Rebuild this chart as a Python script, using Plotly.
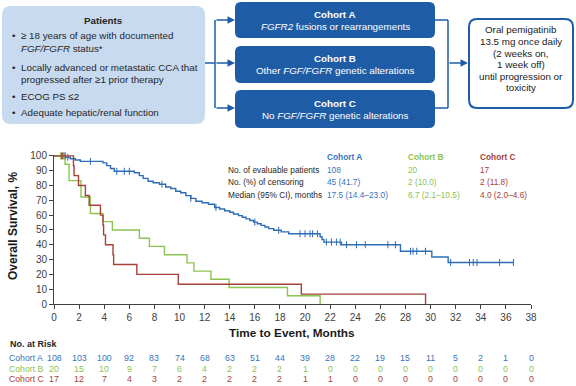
import plotly.graph_objects as go

# ---------------- data ----------------
months_ticks = list(range(0, 39, 2))
y_ticks = list(range(0, 101, 10))

a_time = [0, 0.9, 1.3, 1.7, 2.1, 3.9, 4.2, 4.5, 4.8, 6.4, 6.8, 7.1, 7.5, 7.9, 8.4, 8.9, 9.3, 9.7,
          10.1, 10.5, 10.9, 11.3, 11.8, 12.3, 12.8, 13.2, 13.6, 14.0, 14.3, 14.7, 15.0, 15.3, 15.6,
          15.9, 16.2, 16.5, 16.8, 17.1, 17.5, 18.1, 18.7, 21.2, 21.35, 21.5, 22.9, 27.6, 30.1, 31.4, 36.6]
a_surv = [100, 99.1, 98.1, 97.2, 96.3, 95.3, 93.4, 91.5, 89.6, 88.6, 86.7, 84.8, 82.9, 81.9, 80.9, 79.0, 78.0, 76.1,
          75.1, 73.2, 71.3, 69.4, 68.4, 67.3, 65.2, 64.1, 63.0, 61.9, 60.8, 59.7, 58.6, 57.5, 56.4,
          55.3, 54.2, 53.1, 52.0, 50.9, 49.8, 48.7, 47.4, 45.4, 43.5, 41.8, 40.0, 35.6, 31.7, 28.0, 28.0]
a_cens = [0.6, 0.8, 1.1, 2.9, 5.0, 5.6, 6.0, 8.6, 10.9, 12.9, 16.0, 17.9, 19.6, 20.0, 20.4, 20.6, 21.0,
          21.7, 22.1, 22.5, 22.8, 23.3, 24.1, 24.8, 26.6, 27.2, 28.4, 28.6, 28.9, 29.6, 31.6,
          33.1, 33.4, 33.7, 35.5, 36.6]

b_time = [0, 0.88, 1.2, 2.15, 2.9, 3.9, 4.65, 6.8, 7.6, 8.8, 10.6, 11.15, 12.5, 13.95, 18.6, 21.2]
b_surv = [100, 94.4, 83.3, 72.2, 61.1, 55.6, 50.0, 44.4, 38.9, 33.3, 27.8, 22.2, 16.7, 11.1, 5.6, 0]
b_cens = [0.5, 0.7]

c_time = [0, 1.55, 1.6, 1.95, 2.5, 2.8, 3.7, 3.9, 3.95, 4.1, 4.7, 4.75, 6.6, 9.9, 19.7, 29.6]
c_surv = [100, 93.3, 86.7, 80.0, 73.3, 66.7, 60.0, 53.3, 46.7, 40.0, 33.3, 26.7, 20.0, 13.3, 6.7, 0]
c_cens = [0.7, 0.9]

risk_a = [108, 103, 100, 92, 83, 74, 68, 63, 51, 44, 39, 28, 22, 19, 15, 11, 5, 2, 1, 0]
risk_b = [20, 15, 10, 9, 7, 6, 4, 2, 2, 2, 1, 0, 0, 0, 0, 0, 0, 0, 0, 0]
risk_c = [17, 12, 7, 4, 3, 2, 2, 2, 2, 2, 1, 1, 0, 0, 0, 0, 0, 0, 0, 0]

cohorts = ["Cohort A", "Cohort B", "Cohort C"]
evaluable = ["108", "20", "17"]
censoring = ["45 (41.7)", "2 (10.0)", "2 (11.8)"]
medians = ["17.5 (14.4\u201323.0)", "6.7 (2.1\u201310.5)", "4.0 (2.0\u20134.6)"]

BLUE = "#2e6db4"
BLUE_T = "#3574bd"
GREEN = "#8cc44f"
RED = "#a5423a"
DARK = "#1f5ca6"
FONT = "Liberation Sans, Arial, sans-serif"

# ---------------- geometry helpers (pixel -> paper) ----------------
L, R, T, B = 54, 531, 155, 304
W, H = 576, 386


def px(x):
    return (x - L) / (R - L)


def py(y):
    return (B - y) / (B - T)


def rrect(x0, y0, x1, y1, r):
    return (f"M {px(x0 + r)},{py(y0)} L {px(x1 - r)},{py(y0)} Q {px(x1)},{py(y0)} {px(x1)},{py(y0 + r)} "
            f"L {px(x1)},{py(y1 - r)} Q {px(x1)},{py(y1)} {px(x1 - r)},{py(y1)} "
            f"L {px(x0 + r)},{py(y1)} Q {px(x0)},{py(y1)} {px(x0)},{py(y1 - r)} "
            f"L {px(x0)},{py(y0 + r)} Q {px(x0)},{py(y0)} {px(x0 + r)},{py(y0)} Z")


def surv_at(times, survs, t):
    s = survs[0]
    for ti, si in zip(times, survs):
        if ti <= t:
            s = si
    return s


fig = go.Figure()

for times, survs, cens, col in [(a_time, a_surv, a_cens, BLUE), (b_time, b_surv, b_cens, GREEN),
                                (c_time, c_surv, c_cens, RED)]:
    fig.add_trace(go.Scatter(x=times, y=survs, mode="lines", line=dict(color=col, width=1.4, shape="hv"),
                             hoverinfo="skip", showlegend=False))
    fig.add_trace(go.Scatter(x=cens, y=[surv_at(times, survs, t) for t in cens], mode="markers",
                             marker=dict(symbol="line-ns-open", size=5, color=col,
                                         line=dict(color=col, width=1)),
                             hoverinfo="skip", showlegend=False, cliponaxis=False))

shapes = []
ann = []


def text(x, y, s, size=9.8, color="#262626", anchor="left", bold=False, xref="paper"):
    if bold:
        s = f"<b>{s}</b>"
    ann.append(dict(x=(px(x) if xref == "paper" else x), y=py(y), xref=xref, yref="paper", text=s,
                    showarrow=False, xanchor=anchor, yanchor="middle",
                    font=dict(family=FONT, size=size, color=color)))


# Patients box
shapes.append(dict(type="path", path=rrect(2, 6, 205, 124, 9), xref="paper", yref="paper",
                   fillcolor="#c8daf0", line=dict(width=0)))
text(103, 20, "Patients", bold=True, anchor="center")
for yy in [36, 67, 97, 112]:
    text(10, yy, "\u2022")
text(19, 36, "\u2265 18 years of age with documented")
text(19, 49, "<i>FGF/FGFR</i> status*")
text(19, 67, "Locally advanced or metastatic CCA that")
text(19, 80, "progressed after \u22651 prior therapy")
text(19, 97, "ECOG PS \u22642")
text(19, 112, "Adequate hepatic/renal function")

# Cohort boxes
for (y0, y1, title, sub) in [(2, 38, "Cohort A", "<i>FGFR2</i> fusions or rearrangements"),
                             (46, 83, "Cohort B", "Other <i>FGF/FGFR</i> genetic alterations"),
                             (90, 128, "Cohort C", "No <i>FGF/FGFR</i> genetic alterations")]:
    shapes.append(dict(type="path", path=rrect(235, y0, 435, y1, 6), xref="paper", yref="paper",
                       fillcolor=DARK, line=dict(width=0)))
    mid = (y0 + y1) / 2
    text(335, mid - 6, title, bold=True, color="white", anchor="center")
    text(335, mid + 6, sub, color="white", anchor="center")

# connectors
def seg(x0, y0, x1, y1):
    shapes.append(dict(type="line", xref="paper", yref="paper", x0=px(x0), y0=py(y0), x1=px(x1), y1=py(y1),
                       line=dict(color=DARK, width=1.5)))


seg(205, 63, 215, 63)
seg(215, 20, 215, 108)
seg(435, 20, 448, 20)
seg(435, 108, 448, 108)
seg(448, 20, 448, 108)


def arrow(x0, y0, x1, y1):
    ann.append(dict(x=px(x1), y=py(y1), xref="paper", yref="paper", ax=x0 - x1, ay=y0 - y1,
                    axref="pixel", ayref="pixel", text="", showarrow=True, arrowhead=2, arrowsize=1,
                    arrowwidth=1.5, arrowcolor=DARK))


arrow(215, 20, 235, 20)
arrow(215, 63, 235, 63)
arrow(215, 108, 235, 108)
arrow(448, 63, 468, 63)

# treatment box
shapes.append(dict(type="path", path=rrect(469, 19, 573, 108, 8), xref="paper", yref="paper",
                   fillcolor="white", line=dict(color=DARK, width=2)))
for yy, s in zip([29, 41, 53, 64, 76, 87],
                 ["Oral pemigatinib", "13.5 mg once daily", "(2 weeks on,", "1 week off)",
                  "until progression or", "toxicity"]):
    text(521, yy, s, anchor="center", color="#1a1a1a")

# summary table
cols_x = [325, 406, 478]
cols_c = [BLUE_T, GREEN, RED]
TS = 8.3
for i in range(3):
    text(cols_x[i], 157, cohorts[i], size=TS, color=cols_c[i], bold=True)
    text(cols_x[i], 169.5, evaluable[i], size=TS, color=cols_c[i])
    text(cols_x[i], 182, censoring[i], size=TS, color=cols_c[i])
    text(cols_x[i], 194.5, medians[i], size=TS, color=cols_c[i])
text(226, 169.5, "No. of evaluable patients", size=TS)
text(226, 182, "No. (%) of censoring", size=TS)
text(226, 194.5, "Median (95% CI), months", size=TS)

# axis titles
ann.append(dict(x=px(13), y=py(226), xref="paper", yref="paper", text="<b>Overall Survival, %</b>",
                textangle=-90, showarrow=False, xanchor="center", yanchor="middle",
                font=dict(family=FONT, size=12, color="#1a1a1a")))
text(292, 332.5, "Time to Event, Months", size=11.8, bold=True, anchor="center", color="#1a1a1a")

# at-risk table
text(8, 344, "No. at Risk", size=9, bold=True, color="#262626")
for yy, lab, vals, col in [(357.5, "Cohort A", risk_a, BLUE_T), (368.5, "Cohort B", risk_b, GREEN),
                           (379, "Cohort C", risk_c, RED)]:
    text(7, yy, lab, size=8.7, color=col)
    for m, v in zip(months_ticks, vals):
        text(m, yy, str(v), size=8.8, color=col, anchor="center", xref="x")

fig.update_layout(
    width=W, height=H, margin=dict(l=L, r=W - R, t=T, b=H - B),
    paper_bgcolor="white", plot_bgcolor="white",
    shapes=shapes, annotations=ann, showlegend=False,
    xaxis=dict(range=[0, 38], tickvals=months_ticks, showline=True, linecolor="#404040", linewidth=1,
               ticks="outside", ticklen=4, tickcolor="#404040", showgrid=False, zeroline=False,
               tickfont=dict(family=FONT, size=10, color="#404040")),
    yaxis=dict(range=[0, 100.6], tickvals=y_ticks, showline=True, linecolor="#404040", linewidth=1,
               ticks="outside", ticklen=4, tickcolor="#404040", showgrid=False, zeroline=False,
               tickfont=dict(family=FONT, size=10, color="#404040")),
)

fig.write_html("out.html", config={"displayModeBar": False},
               post_script="document.body.style.margin='0px';")
